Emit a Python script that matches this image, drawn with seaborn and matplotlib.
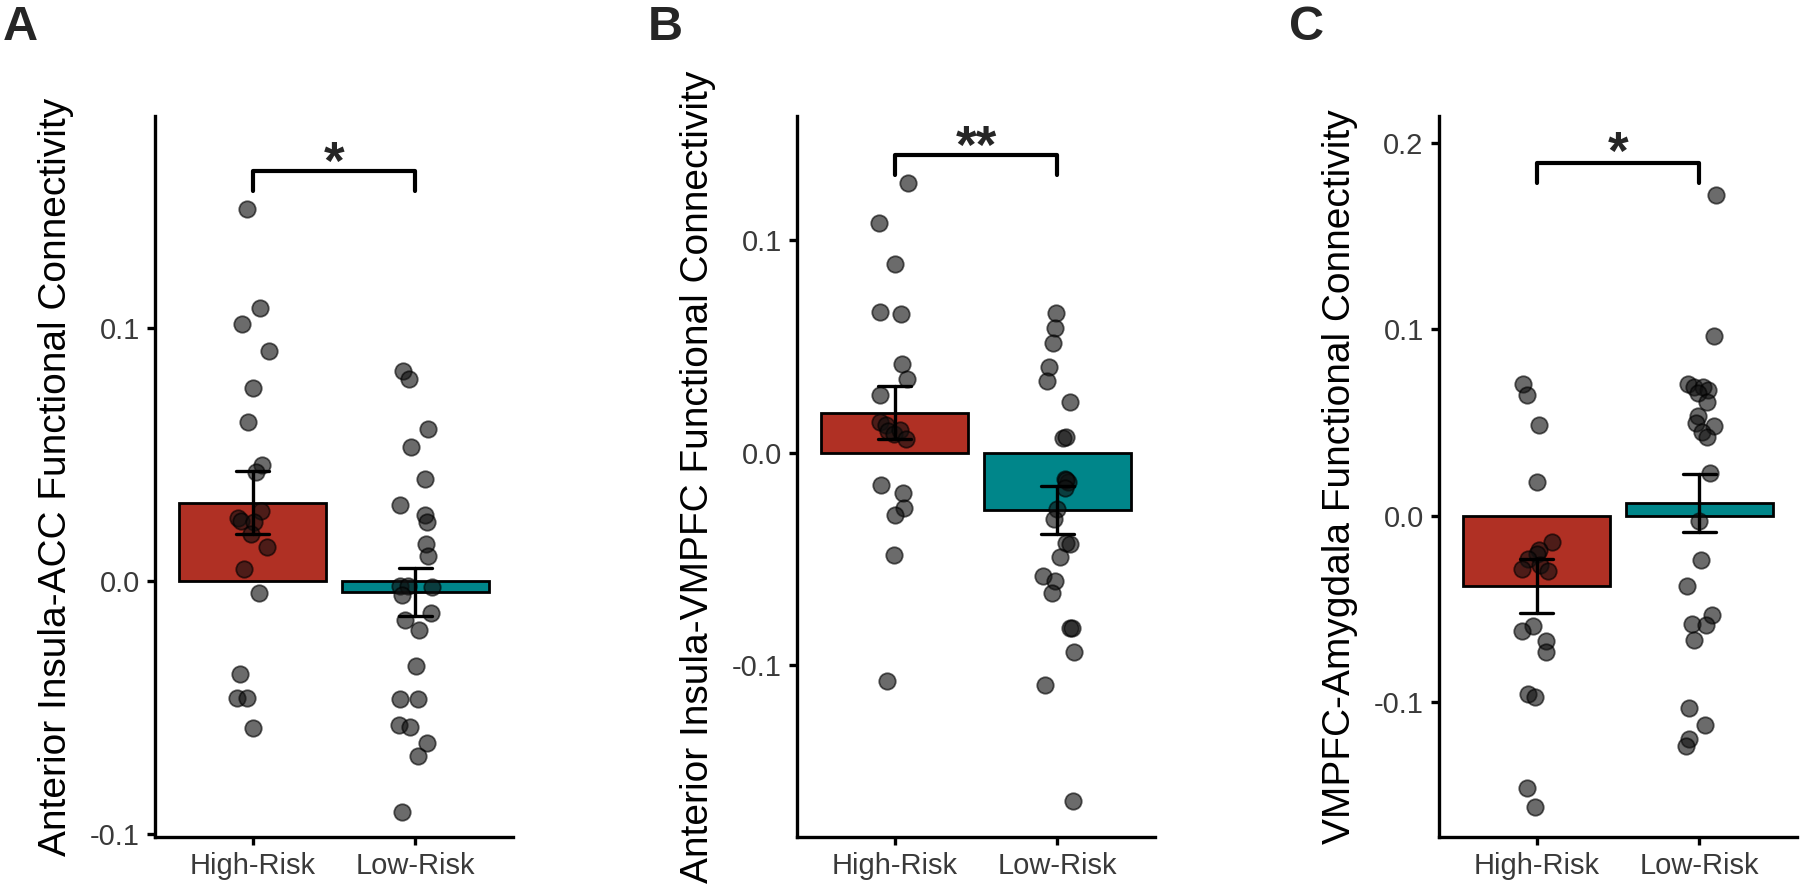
import matplotlib
matplotlib.use("Agg")
from matplotlib import pyplot as plt
import seaborn as sns
import numpy as np
import pandas as pd

groups = ["High-Risk", "Low-Risk"]
bar_colors = ["#B03024", "#00868A"]

# A: anterior insula - ACC
acc_high = [0.1472, 0.1078, 0.1016, 0.0910, 0.0762, 0.0628, 0.0458, 0.0430, 0.0278, 0.0250,
            0.0238, 0.0234, 0.0184, 0.0136, 0.0046, -0.0049, -0.0369, -0.0462, -0.0462, -0.0582]
acc_high_jit = [-0.033, 0.047, -0.064, 0.100, 0.002, -0.027, 0.055, 0.022, 0.053, -0.088,
                -0.073, 0.010, -0.012, 0.089, -0.051, 0.037, -0.076, -0.094, -0.037, 0.002]
acc_low = [0.0831, 0.0797, 0.0601, 0.0528, 0.0404, 0.0300, 0.0261, 0.0232, 0.0145, 0.0100,
           -0.0020, -0.0020, -0.0022, -0.0055, -0.0125, -0.0154, -0.0194, -0.0335, -0.0468, -0.0468,
           -0.0569, -0.0578, -0.0642, -0.0692, -0.0914]
acc_low_jit = [-0.073, -0.041, 0.078, -0.026, 0.059, -0.094, 0.057, 0.069, 0.065, 0.078,
               -0.094, -0.045, 0.100, -0.080, 0.098, -0.061, 0.022, 0.002, -0.094, 0.016,
               -0.098, -0.032, 0.069, 0.016, -0.081]

# B: anterior insula - VMPFC
vmpfc_high = [0.1268, 0.1080, 0.0886, 0.0662, 0.0653, 0.0418, 0.0344, 0.0269, 0.0145, 0.0129,
              0.0103, 0.0086, 0.0106, 0.0065, -0.0150, -0.0189, -0.0261, -0.0294, -0.0479, -0.1073]
vmpfc_high_jit = [0.084, -0.098, 0.0, -0.090, 0.037, 0.047, 0.074, -0.092, -0.092, -0.055,
                  -0.041, -0.004, 0.031, 0.068, -0.086, 0.049, 0.057, 0.0, -0.004, -0.050]
vmpfc_low = [0.0654, 0.0587, 0.0513, 0.0403, 0.0338, 0.0237, 0.0070, 0.0074, -0.0126, -0.0137,
             -0.0130, -0.0168, -0.0267, -0.0314, -0.0424, -0.0427, -0.0490, -0.0581, -0.0603, -0.0659,
             -0.0824, -0.0824, -0.0938, -0.1093, -0.1638]
vmpfc_low_jit = [-0.010, -0.015, -0.025, -0.052, -0.066, 0.076, 0.034, 0.055, 0.045, 0.065,
                 0.055, 0.049, -0.002, -0.021, 0.055, 0.080, 0.014, -0.090, -0.012, -0.034,
                 0.080, 0.092, 0.101, -0.074, 0.096]

# C: VMPFC - amygdala
amy_high = [0.0709, 0.0645, 0.0486, 0.0179, -0.0140, -0.0184, -0.0206, -0.0234, -0.0285, -0.0265,
            -0.0297, -0.0590, -0.0617, -0.0671, -0.0731, -0.0953, -0.0971, -0.1459, -0.1561]
amy_high_jit = [-0.086, -0.061, 0.012, 0.0, 0.092, 0.016, 0.0, -0.052, -0.092, 0.020,
                0.072, -0.025, -0.092, 0.057, 0.055, -0.052, -0.010, -0.058, -0.012]
amy_low = [0.1717, 0.0965, 0.0709, 0.0688, 0.0688, 0.0673, 0.0659, 0.0611, 0.0534, 0.0498,
           0.0480, 0.0450, 0.0423, 0.0227, -0.0027, -0.0238, -0.0377, -0.0533, -0.0581, -0.0587,
           -0.0667, -0.1028, -0.1123, -0.1196, -0.1234]
amy_low_jit = [0.104, 0.090, -0.068, -0.033, 0.025, 0.055, -0.006, 0.045, -0.006, -0.020,
               0.090, 0.015, 0.045, 0.066, 0.0, 0.008, -0.076, 0.078, -0.043, 0.039,
               -0.031, -0.065, 0.037, -0.062, -0.082]

ylabels = ["Anterior Insula-ACC Functional Connectivity",
           "Anterior Insula-VMPFC Functional Connectivity",
           "VMPFC-Amygdala Functional Connectivity"]
panel_letters = ["A", "B", "C"]
stars = ["*", "**", "*"]
# bracket: leg bottom, bar height, star text centre
brackets = [(0.1543, 0.1622, 0.1643), (0.1305, 0.1399, 0.1429), (0.1785, 0.1889, 0.1932)]
ylims = [(-0.1012, 0.1838), (-0.1806, 0.1582), (-0.1722, 0.2143)]
yticks = [[-0.1, 0.0, 0.1], [-0.1, 0.0, 0.1], [-0.1, 0.0, 0.1, 0.2]]

sns.set_style("ticks")
plt.rcParams["font.family"] = ["Liberation Sans", "DejaVu Sans"]
plt.rcParams["axes.unicode_minus"] = False


def draw_panel(ax, high, high_jit, low, low_jit, ylabel, ylim, ticks, bracket, star):
    df = pd.DataFrame({"group": [groups[0]] * len(high) + [groups[1]] * len(low),
                       "value": high + low})
    sns.barplot(data=df, x="group", y="value", hue="group", order=groups, hue_order=groups,
                palette=bar_colors, legend=False, saturation=1, width=0.9,
                errorbar="se", capsize=0.2, edgecolor="black", linewidth=2,
                err_kws={"color": "black", "linewidth": 2.4, "zorder": 5}, ax=ax)
    xs = list(np.array(high_jit)) + list(1 + np.array(low_jit))
    sns.scatterplot(x=xs, y=high + low, s=140, color="#111111", alpha=0.62,
                    edgecolor="black", linewidth=1.3, zorder=3, ax=ax)

    leg, top, star_y = bracket
    ax.plot([0, 0, 1, 1], [leg, top, top, leg], color="black", lw=3, clip_on=False,
            solid_capstyle="round", zorder=6)
    ax.text(0.5, star_y, star, ha="center", va="center", fontsize=38, fontweight="bold")

    ax.set_xlim(-0.6, 1.6)
    ax.set_ylim(*ylim)
    ax.set_yticks(ticks)
    ax.set_yticklabels(["%.1f" % t for t in ticks])
    ax.set_xlabel("")
    ax.set_ylabel(ylabel, fontsize=28, color="black")
    ax.yaxis.set_label_coords(-0.226, 0.5)
    sns.despine(ax=ax)
    for side in ["left", "bottom"]:
        ax.spines[side].set_linewidth(2.4)
        ax.spines[side].set_color("black")
    ax.tick_params(axis="both", length=6, width=2.4, color="black",
                   labelsize=21, labelcolor="#3a3a3a", pad=5)


fig = plt.figure(figsize=(18, 8.84), dpi=100)
lefts = [155 / 1800, 797 / 1800, 1439 / 1800]
letter_x = [3 / 1800, 648 / 1800, 1289 / 1800]
data = [(acc_high, acc_high_jit, acc_low, acc_low_jit),
        (vmpfc_high, vmpfc_high_jit, vmpfc_low, vmpfc_low_jit),
        (amy_high, amy_high_jit, amy_low, amy_low_jit)]

for i in range(3):
    ax = fig.add_axes([lefts[i], 1 - 837 / 884, 358 / 1800, 721 / 884])
    h, hj, l, lj = data[i]
    draw_panel(ax, h, hj, l, lj, ylabels[i], ylims[i], yticks[i], brackets[i], stars[i])
    fig.text(letter_x[i], 1 - 40 / 884, panel_letters[i], ha="left", va="baseline",
             fontsize=35, fontweight="bold")

fig.savefig("out.png", dpi=100, facecolor="white")
